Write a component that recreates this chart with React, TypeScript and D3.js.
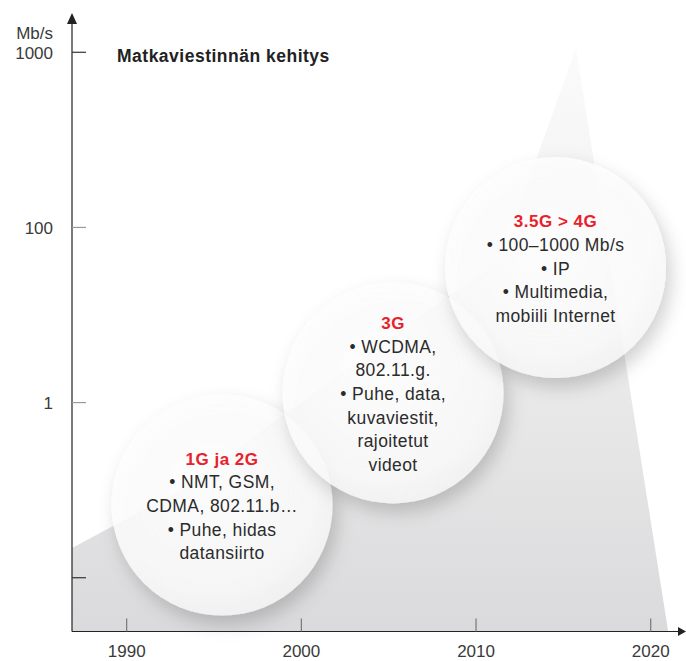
import { scaleLinear, area } from 'd3'

const width = 686
const height = 661

// x axis: years
const yearTicks = [1990, 2000, 2010, 2020]
// y axis: equally spaced speed levels, labels as printed
const levelTicks = [0, 1, 2, 3]
const levelLabels = ['', '1', '100', '1000']

// grey growth area (year, level)
const areaYears = [1986.87, 1993.05, 2008.34, 2011.37, 2015.72, 2021.0]
const areaLevels = [0.17, 0.5, 1.603, 1.808, 3.025, -0.307]

// generation bubbles
const genTitles = ['1G ja 2G', '3G', '3.5G > 4G']
const genYears = [1995.46, 2005.25, 2014.55]
const genLevels = [0.415, 1.055, 1.771]
const genNotes = [
  ['• NMT, GSM,', 'CDMA, 802.11.b…', '• Puhe, hidas', 'datansiirto'],
  ['• WCDMA,', '802.11.g.', '• Puhe, data,', 'kuvaviestit,', 'rajoitetut', 'videot'],
  ['• 100–1000 Mb/s', '• IP', '• Multimedia,', 'mobiili Internet'],
]

const title = 'Matkaviestinnän kehitys'
const unit = 'Mb/s'

const font = "'Liberation Sans', Arial, Helvetica, sans-serif"
const red = '#e8212b'
const lineH = 23.7
const radius = 110.5

function App() {
  const xScale = scaleLinear().domain([1986.87, 2022.02]).range([72, 686])
  const yScale = scaleLinear().domain([-0.307, 3.23]).range([631.5, 12])

  const yBase = yScale.domain()[0]
  const areaPath = area<number>()
    .x((_, i) => xScale(areaYears[i]))
    .y0(yScale(yBase))
    .y1((_, i) => yScale(areaLevels[i]))(areaLevels)

  const x0 = xScale.range()[0]
  const yAxis = yScale(yBase)

  return (
    <svg
      width={width}
      height={height}
      style={{ position: 'absolute', left: 0, top: 0, background: '#fff' }}
      fontFamily={font}
    >
      <defs>
        <linearGradient id="greyFill" x1="0" y1={yAxis} x2="0" y2={yScale(3.03)} gradientUnits="userSpaceOnUse">
          <stop offset="0" stopColor="#dadadc" />
          <stop offset="0.3" stopColor="#e5e5e6" />
          <stop offset="0.6" stopColor="#efeff0" />
          <stop offset="1" stopColor="#fbfbfb" />
        </linearGradient>
        <radialGradient id="bubbleFill" cx="0.45" cy="0.42" r="0.6">
          <stop offset="0" stopColor="#ffffff" stopOpacity="0.92" />
          <stop offset="0.8" stopColor="#fdfdfd" stopOpacity="0.84" />
          <stop offset="1" stopColor="#f8f8f8" stopOpacity="0.8" />
        </radialGradient>
        <filter id="shadow" x="-40%" y="-40%" width="180%" height="180%">
          <feDropShadow dx="5" dy="9" stdDeviation="9" floodColor="#000" floodOpacity="0.22" />
        </filter>
      </defs>

      <path d={areaPath ?? ''} fill="url(#greyFill)" />

      {genTitles.map((t, i) => (
        <circle
          key={t}
          cx={xScale(genYears[i])}
          cy={yScale(genLevels[i])}
          r={radius}
          fill="url(#bubbleFill)"
          filter="url(#shadow)"
        />
      ))}

      {genTitles.map((t, i) => {
        const cx = xScale(genYears[i])
        const cy = yScale(genLevels[i])
        const n = genNotes[i].length + 1
        const first = cy + 7 - ((n - 1) * lineH) / 2
        return (
          <g key={t} textAnchor="middle">
            <text x={cx} y={first} fill={red} fontWeight="bold" fontSize={17} letterSpacing={0.5}>
              {t}
            </text>
            {genNotes[i].map((line, j) => (
              <text key={j} x={cx} y={first + (j + 1) * lineH} fill="#2b2b2b" fontSize={17.5} letterSpacing={0.4}>
                {line}
              </text>
            ))}
          </g>
        )
      })}

      <text x={117} y={62} fontWeight="bold" fontSize={17.5} letterSpacing={0.5} fill="#222">
        {title}
      </text>

      {/* y axis */}
      <line x1={x0} x2={x0} y1={yAxis} y2={20} stroke="#222" strokeWidth={1.2} />
      <path d={`M${x0 - 5},${24} L${x0},${13} L${x0 + 5},${24} Z`} fill="#222" />
      {levelTicks.map((v, i) => (
        <g key={v} transform={`translate(0,${yScale(v)})`}>
          <line x1={x0} x2={86} stroke={i === 0 || i === 3 ? '#333' : '#999'} strokeWidth={1.2} />
          <text x={53} dy="0.4em" textAnchor="end" fontSize={17} fill="#3a3a3a">
            {levelLabels[i]}
          </text>
        </g>
      ))}
      <text x={53} y={39} textAnchor="end" fontSize={17} fill="#3a3a3a">
        {unit}
      </text>

      {/* x axis */}
      <line x1={x0} x2={678} y1={yAxis} y2={yAxis} stroke="#222" strokeWidth={1.2} />
      <path d={`M678,${yAxis - 4.5} L686,${yAxis} L678,${yAxis + 4.5} Z`} fill="#222" />
      {yearTicks.map(t => (
        <g key={t} transform={`translate(${xScale(t)},0)`}>
          <line y1={yAxis - 13} y2={yAxis} stroke="#777" strokeWidth={1.2} />
          <text y={657} textAnchor="middle" fontSize={17} fill="#3a3a3a">
            {t}
          </text>
        </g>
      ))}
    </svg>
  )
}

export default App
